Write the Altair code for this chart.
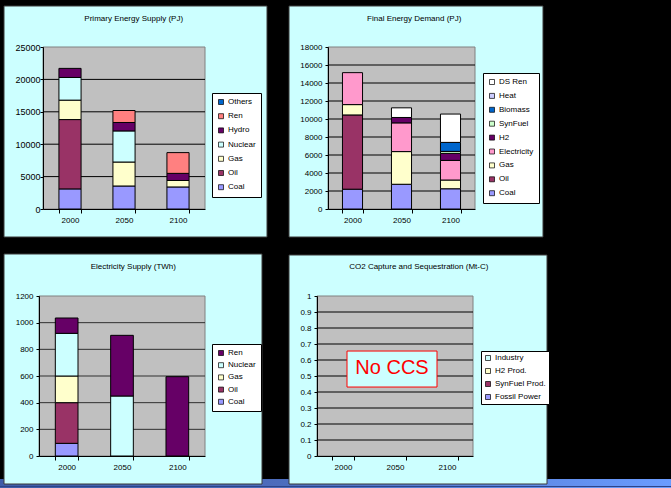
import altair as alt
import pandas as pd

YEARS = ["2000", "2050", "2100"]
FONT = "Liberation Sans"

# ---- Primary Energy Supply (PJ); series listed bottom-to-top of the stack
pes_sources = ["Coal", "Oil", "Gas", "Nuclear", "Hydro", "Ren", "Others"]
pes_colors = ["#9999ff", "#993366", "#ffffcc", "#ccffff", "#660066", "#ff8080", "#0066cc"]
pes_coal = [3100, 3550, 3400]
pes_oil = [10700, 0, 0]
pes_gas = [3000, 3700, 1000]
pes_nuclear = [3500, 4800, 0]
pes_hydro = [1400, 1300, 1100]
pes_ren = [0, 1850, 3200]
pes_others = [0, 0, 0]
pes_ticks = [0, 5000, 10000, 15000, 20000, 25000]

# ---- Final Energy Demand (PJ)
fed_sources = ["Coal", "Oil", "Gas", "Electricity", "H2", "SynFuel", "Biomass", "Heat", "DS Ren"]
fed_colors = ["#9999ff", "#993366", "#ffffcc", "#ff99cc", "#660066", "#ccffcc", "#0066cc", "#ccccff", "#ffffff"]
fed_coal = [2200, 2750, 2250]
fed_oil = [8250, 0, 0]
fed_gas = [1150, 3630, 970]
fed_electricity = [3550, 3190, 2180]
fed_h2 = [0, 600, 780]
fed_synfuel = [0, 0, 220]
fed_biomass = [0, 0, 1000]
fed_heat = [0, 0, 0]
fed_dsren = [0, 1070, 3150]
fed_ticks = [0, 2000, 4000, 6000, 8000, 10000, 12000, 14000, 16000, 18000]

# ---- Electricity Supply (TWh)
els_sources = ["Coal", "Oil", "Gas", "Nuclear", "Ren"]
els_colors = ["#9999ff", "#993366", "#ffffcc", "#ccffff", "#660066"]
els_coal = [95, 0, 0]
els_oil = [305, 0, 0]
els_gas = [200, 0, 0]
els_nuclear = [320, 450, 0]
els_ren = [115, 455, 595]
els_ticks = [0, 200, 400, 600, 800, 1000, 1200]

# ---- CO2 Capture and Sequestration (Mt-C): nothing captured
ccs_sources = ["Fossil Power", "SynFuel Prod.", "H2 Prod.", "Industry"]
ccs_colors = ["#9999ff", "#993366", "#ffffcc", "#ccffff"]
ccs_fossil = [0, 0, 0]
ccs_synfuel = [0, 0, 0]
ccs_h2 = [0, 0, 0]
ccs_industry = [0, 0, 0]
ccs_ticks = [0, 0.1, 0.2, 0.3, 0.4, 0.5, 0.6, 0.7, 0.8, 0.9, 1]
ccs_note = "No CCS"
ccs_note_lo, ccs_note_hi, ccs_note_mid = 0.431, 0.656, 0.55


def stack_frame(sources, series):
    rows = []
    for rank, (src, vals) in enumerate(zip(sources, series)):
        for yr, v in zip(YEARS, vals):
            if v > 0:
                rows.append({"year": yr, "source": src, "value": v, "rank": rank})
    return pd.DataFrame(rows, columns=["year", "source", "value", "rank"])


ONE = pd.DataFrame({"k": [0]})


def box(x1, x2, y1, y2, **style):
    return alt.Chart(ONE).mark_rect(**style).encode(
        x=alt.value(x1), x2=alt.value(x2), y=alt.value(y1), y2=alt.value(y2)
    )


def panel(title, df, sources, colors, ticks, cell_w, cell_h, plot, card, title_xy,
          legend_xy, legend_pad, legend_row, y_fmt="d", y_label_size=8, y_label_pad=3,
          grid_color="black", strip=None, note=None):
    """One chart card; the view covers the whole card cell, the plot box sits inside."""
    px0, px1, py0, py1 = plot
    xs = alt.Scale(domain=YEARS, range=[px0, px1], paddingInner=0.59, paddingOuter=0.295)
    ys = alt.Scale(domain=[ticks[0], ticks[-1]], range=[py1, py0], nice=False)
    x_axis = alt.Axis(title=None, labelAngle=0, tickBand="extent", tickSize=4,
                      labelPadding=3, labelFontSize=8, zindex=1,
                      offset=-(cell_h - py1))
    y_axis = alt.Axis(title=None, values=ticks, format=y_fmt, tickSize=3,
                      labelPadding=y_label_pad, labelFontSize=y_label_size, zindex=1,
                      offset=-px0)

    layers = [box(0, cell_w, 0, cell_h, fill="black")]
    if strip is not None:
        g0, g1 = strip
        layers.append(box(0, cell_w, cell_h - 9, cell_h,
                          fill=alt.Gradient(gradient="linear",
                                            stops=[alt.GradientStop(color=g0, offset=0),
                                                   alt.GradientStop(color=g1, offset=1)],
                                            x1=0, x2=1, y1=0, y2=0)))
        layers.append(box(0, cell_w, cell_h - 2, cell_h - 1, fill="#2c4488"))
    layers.append(box(*card, fill="#ccffff", stroke="#3a3a3a", strokeWidth=1))
    layers.append(box(px0, px1, py0, py1, fill="#c0c0c0", stroke="#808080", strokeWidth=1))

    grid_df = pd.DataFrame({"value": ticks[1:-1]})
    layers.append(
        alt.Chart(grid_df).mark_rule(color=grid_color, strokeWidth=1).encode(
            x=alt.value(px0), x2=alt.value(px1),
            y=alt.Y("value:Q", scale=ys, axis=y_axis),
        )
    )
    legend_domain = list(reversed(sources))
    legend_range = list(reversed(colors))
    layers.append(
        alt.Chart(df).mark_bar(stroke="black", strokeWidth=1).encode(
            x=alt.X("year:N", scale=xs, sort=YEARS, axis=x_axis),
            y=alt.Y("value:Q", stack="zero", scale=ys, axis=y_axis),
            color=alt.Color("source:N",
                            scale=alt.Scale(domain=legend_domain, range=legend_range),
                            legend=alt.Legend(title=None, orient="none",
                                              legendX=legend_xy[0], legendY=legend_xy[1],
                                              fillColor="white", strokeColor="black",
                                              padding=legend_pad, rowPadding=legend_row,
                                              symbolType="square", symbolSize=25,
                                              symbolStrokeColor="black",
                                              symbolStrokeWidth=0.7,
                                              labelFontSize=8, labelOffset=3,
                                              labelLimit=200, zindex=1)),
            order=alt.Order("rank:Q", sort="ascending"),
        )
    )
    if note is not None:
        note_df = pd.DataFrame({"year": [note["year"]], "value": [note["lo"]],
                                "hi": [note["hi"]], "mid": [note["mid"]],
                                "label": [note["text"]]})
        layers.append(
            alt.Chart(note_df).mark_bar(width=90, xOffset=-3, fill="#ccffff",
                                        stroke="#ff0000", strokeWidth=1).encode(
                x=alt.X("year:N", scale=xs, sort=YEARS, axis=x_axis),
                y=alt.Y("value:Q", scale=ys, axis=y_axis),
                y2="hi:Q",
            )
        )
        layers.append(
            alt.Chart(note_df).mark_text(font=FONT, fontSize=20, color="#ff0000",
                                         xOffset=-3, baseline="middle").encode(
                x=alt.X("year:N", scale=xs, sort=YEARS, axis=x_axis),
                y=alt.Y("mid:Q", scale=ys, axis=y_axis),
                text="label:N",
            )
        )
    layers.append(
        alt.Chart(ONE).mark_text(font=FONT, fontSize=8, color="black",
                                 align="center", baseline="middle").encode(
            x=alt.value(title_xy[0]), y=alt.value(title_xy[1]), text=alt.value(title)
        )
    )
    return alt.layer(*layers).properties(width=cell_w, height=cell_h)


pes_df = stack_frame(pes_sources, [pes_coal, pes_oil, pes_gas, pes_nuclear,
                                   pes_hydro, pes_ren, pes_others])
fed_df = stack_frame(fed_sources, [fed_coal, fed_oil, fed_gas, fed_electricity, fed_h2,
                                   fed_synfuel, fed_biomass, fed_heat, fed_dsren])
els_df = stack_frame(els_sources, [els_coal, els_oil, els_gas, els_nuclear, els_ren])
ccs_df = stack_frame(ccs_sources, [ccs_fossil, ccs_synfuel, ccs_h2, ccs_industry])

p1 = panel("Primary Energy Supply (PJ)", pes_df, pes_sources, pes_colors, pes_ticks,
           278, 245, (43, 205, 47, 209), (4, 267, 6, 237), (133.7, 19),
           (212, 93), 5, 6.2, y_label_size=9, y_label_pad=0)

p2 = panel("Final Energy Demand (PJ)", fed_df, fed_sources, fed_colors, fed_ticks,
           393, 245, (50, 197, 47, 209), (11, 265, 6, 237), (136.2, 19),
           (205, 73), 5, 5.9)

p3 = panel("Electricity Supply (TWh)", els_df, els_sources, els_colors, els_ticks,
           278, 243, (39, 205, 51, 211), (4, 262, 9, 239), (133.3, 22),
           (212, 99), 5, 4.2, grid_color="#303030", strip=("#3e5ca8", "#4c6cbc"))

p4 = panel("CO2 Capture and Sequestration (Mt-C)", ccs_df, ccs_sources, ccs_colors,
           ccs_ticks, 393, 243, (39, 195, 51, 211), (11, 269, 10, 239), (140.8, 22),
           (203, 106), 3, 5, y_fmt="~g", strip=("#4c6cbc", "#6a9cff"),
           note={"year": "2050", "lo": ccs_note_lo, "hi": ccs_note_hi,
                 "mid": ccs_note_mid, "text": ccs_note})

chart = (
    alt.concat(p1, p2, p3, p4, columns=2, spacing=0)
    .resolve_scale(color="independent", x="independent", y="independent")
    .properties(background="black", padding=0)
    .configure_view(strokeWidth=0)
    .configure_axis(labelFont=FONT, labelColor="black", domainColor="black",
                    tickColor="black", grid=False)
    .configure_legend(labelFont=FONT, labelColor="black")
)

chart.save("out.html", embed_options={"renderer": "svg", "actions": False})
